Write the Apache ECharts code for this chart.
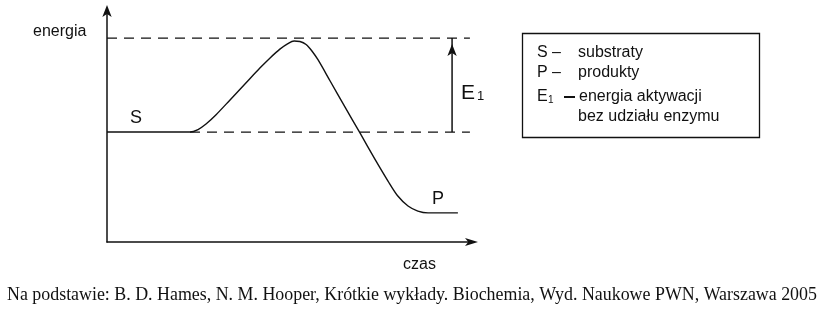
<!DOCTYPE html>
<html><head><meta charset="utf-8">
<script src="https://cdn.jsdelivr.net/npm/echarts@6/dist/echarts.min.js"></script>
<style>html,body{margin:0;padding:0;background:#fff}#c{width:834px;height:309px}</style>
</head><body><div id="c"></div>
<script>
// czas (time) and energia (energy) of the reaction profile, in arbitrary units 0-100
const czas    = [0, 22.8, 25.0, 27.2, 29.9, 33.8, 37.9, 42.0, 44.8, 47.5, 49.7, 51.4, 53.0, 54.7, 56.3, 58.0, 61.3, 65.4, 69.5, 73.6, 77.2, 79.9, 82.7, 85.4, 88.2, 96.4];
const energia = [47.6, 47.6, 48.7, 51.1, 55.0, 61.5, 68.4, 75.3, 79.7, 83.5, 85.9, 87.0, 86.8, 85.5, 82.7, 78.8, 69.7, 58.4, 47.2, 35.9, 26.4, 19.9, 15.6, 13.4, 12.6, 12.6];
const poziomS = 47.6;        // energy of substrates
const poziomSzczytu = 88.3;  // energy level of the upper dashed line
const startDolnej = 22.8;    // where lower dashed line starts
const koniecLinii = 99.7;    // where dashed lines end
const czasE1 = 94.8;         // position of E1 arrow
const legendaSymbole = ['S \u2013', 'P \u2013'];
const legendaOpisy = ['substraty', 'produkty', 'energia aktywacji', 'bez udziału enzymu'];
const podpis = 'Na podstawie: B. D. Hames, N. M. Hooper, Krótkie wykłady. Biochemia, Wyd. Naukowe PWN, Warszawa 2005';

const chart = echarts.init(document.getElementById('c'), null, {renderer: 'canvas'});
const sans = 'Liberation Sans';
const ink = '#111';
function txt(x, y, t, size, family) {
  return {type: 'text', x: x, y: y, z: 50,
    style: {text: t, fontSize: size, fontFamily: family || sans, fill: ink, align: 'left', verticalAlign: 'middle'}};
}
const legendY = [53, 73, 97, 117];
const graphics = [
  txt(33, 32, 'energia', 16),
  txt(403, 265, 'czas', 16),
  txt(130, 118, 'S', 18),
  txt(432, 199, 'P', 18),
  txt(461, 93, 'E', 21),
  txt(477, 96, '1', 13),
  {type: 'rect', shape: {x: 522.5, y: 33.5, width: 237, height: 104}, style: {fill: 'none', stroke: ink, lineWidth: 1.3}, z: 50},
  txt(537, legendY[0], legendaSymbole[0], 16),
  txt(537, legendY[1], legendaSymbole[1], 16),
  txt(537, legendY[2], 'E', 16),
  txt(548, legendY[2] + 3, '1', 10),
  {type: 'rect', shape: {x: 564, y: legendY[2] - 1, width: 11, height: 2}, style: {fill: ink}, z: 50},
  txt(578, legendY[0], legendaOpisy[0], 16),
  txt(578, legendY[1], legendaOpisy[1], 16),
  txt(579, legendY[2], legendaOpisy[2], 16),
  txt(578, legendY[3], legendaOpisy[3], 16),
  txt(7, 295, podpis, 17.9, 'Liberation Serif')
];

const dash = {color: ink, width: 1.2, type: [10, 7]};
chart.setOption({
  animation: false,
  grid: {left: 107, top: 11, width: 364, height: 231},
  xAxis: {type: 'value', min: 0, max: 100, splitLine: {show: false}, axisTick: {show: false}, axisLabel: {show: false},
    axisLine: {show: true, lineStyle: {color: ink, width: 1.5}, symbol: ['none', 'arrow'], symbolSize: [6, 13], symbolOffset: [0, 7]}},
  yAxis: {type: 'value', min: 0, max: 100, splitLine: {show: false}, axisTick: {show: false}, axisLabel: {show: false},
    axisLine: {show: true, lineStyle: {color: ink, width: 1.5}, symbol: ['none', 'arrow'], symbolSize: [7, 12], symbolOffset: [0, 6]}},
  series: [
    {type: 'line', data: czas.map((x, i) => [x, energia[i]]), smooth: 0.3, symbol: 'none',
      lineStyle: {color: ink, width: 1.4}},
    {type: 'line', data: [[0, poziomSzczytu], [koniecLinii, poziomSzczytu]], symbol: 'none', lineStyle: dash},
    {type: 'line', data: [[startDolnej, poziomS], [koniecLinii, poziomS]], symbol: 'none', lineStyle: dash},
    {type: 'line', showSymbol: true, symbol: 'none', lineStyle: {color: ink, width: 1.5},
      data: [[czasE1, poziomS], {value: [czasE1, poziomSzczytu], symbol: 'arrow', symbolSize: [7, 12], symbolOffset: [0, 6], itemStyle: {color: ink}}]}
  ],
  graphic: graphics
});
</script></body></html>
